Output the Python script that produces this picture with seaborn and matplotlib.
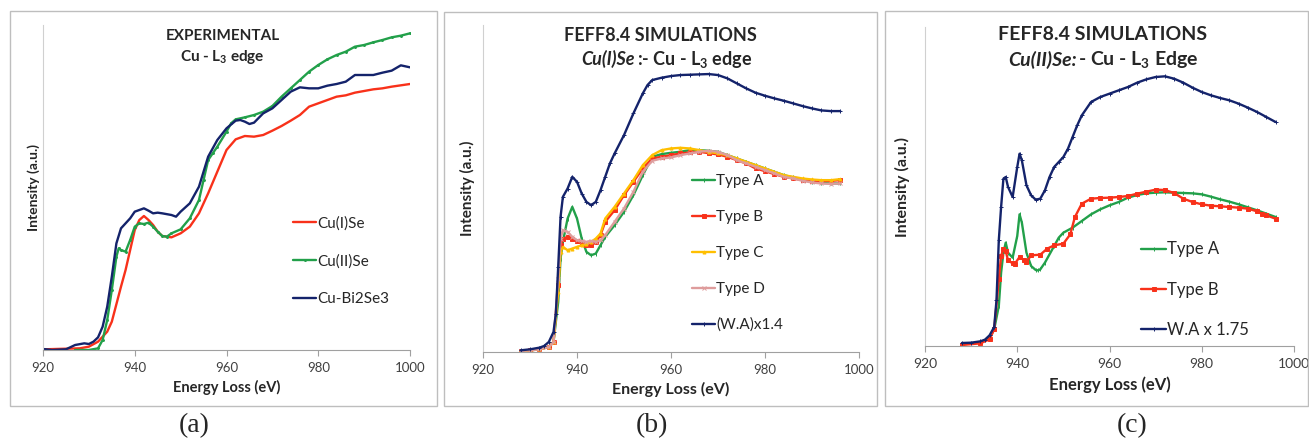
import matplotlib
matplotlib.use('Agg')
import matplotlib.pyplot as plt
import seaborn as sns
from matplotlib.patches import Rectangle

sns.set_style('white')
plt.rcParams['font.family'] = ['Lato', 'DejaVu Sans']
plt.rcParams['mathtext.fontset'] = 'custom'
plt.rcParams['mathtext.rm'] = 'Lato'
plt.rcParams['mathtext.it'] = 'Lato:italic'
plt.rcParams['mathtext.bf'] = 'Lato:bold'
plt.rcParams['mathtext.default'] = 'regular'

RED = '#F8311A'
GREEN = '#22A04A'
NAVY = '#14236B'
YELLOW = '#FFBF00'
PINK = '#DE9C9C'

# ---- panel (a): experimental ----
a_red_x = [920, 928, 930, 932, 934, 935, 937, 938, 939, 940, 941, 942, 943, 944, 945, 946, 948, 950, 952, 954,
           956, 958, 960, 962, 964, 966, 968, 970, 972, 974, 976, 978, 980, 982, 984, 986, 988, 990, 992, 994,
           996, 998, 1000]
a_red_y = [0.2, 0.5, 1.0, 2.5, 5.5, 8.5, 19, 24, 30, 36, 39, 40.2, 39, 37.5, 35.5, 34.2, 33.8, 35, 37, 41,
           47, 53.5, 60, 63.2, 64.2, 64, 64.5, 65.8, 67.2, 68.8, 70.5, 73, 74, 75, 76, 76.4, 77.2, 77.7, 78.2, 78.5,
           79, 79.4, 79.8]

a_green_x = [927, 930, 932, 933, 934, 935, 936, 936.5, 937, 938, 939, 940, 941, 942, 943, 944, 945, 946, 947, 948,
             950, 952, 954, 955, 956, 957, 958, 960, 961, 962, 964, 966, 968, 970, 972, 974, 976, 978, 980, 982,
             984, 986, 988, 990, 992, 994, 996, 998, 1000]
a_green_y = [0, 0, 0.5, 3, 9, 18, 28, 30.5, 30, 29.5, 33, 37, 38, 37.8, 38.2, 37, 35.5, 34.2, 34, 35,
             36.2, 39.5, 45, 51, 57, 59, 61, 65.5, 68, 69.2, 69.8, 70.5, 71.5, 73.2, 76, 78.5, 81, 83.5, 85.5, 87.2,
             88.5, 89.5, 91, 91.5, 92.3, 93, 93.8, 94.3, 95]

a_blue_x = [920, 922, 925, 927, 929, 930, 931, 932, 933, 934, 935, 936, 937, 938, 939, 940, 941, 942, 943, 944,
            945, 946, 948, 949, 950, 952, 954, 956, 958, 960, 962, 963, 964, 965, 966, 968, 970, 972, 974, 976,
            978, 980, 982, 984, 986, 988, 990, 992, 994, 996, 998, 1000]
a_blue_y = [0.3, 0, 0.2, 1.5, 2, 1.8, 2.5, 3.8, 7, 13, 22, 32, 36.5, 38, 39.5, 41.5, 42, 42.5, 41.8, 41,
            41.2, 41, 40.5, 40, 41.5, 44, 49, 58, 63, 66.5, 68.8, 69, 68.5, 67.8, 68.2, 71, 72.5, 75, 77.5, 78.8,
            78.5, 78.5, 79.3, 79.8, 80.5, 82.5, 82.5, 82.5, 83.2, 83.8, 85.4, 84.8]

# ---- panel (b): FEFF Cu(I)Se ----
b_wa_x = [928, 930, 932, 933, 934, 935, 935.5, 936, 936.5, 937, 938, 939, 940, 941, 942, 943, 944, 945, 946, 947,
          948, 950, 952, 954, 955, 956, 958, 960, 962, 964, 966, 968, 970, 972, 974, 976, 978, 980, 982, 984,
          986, 988, 990, 992, 994, 996]
b_wa_y = [0.5, 0.8, 1.3, 1.8, 3, 6, 11.5, 25.5, 40.5, 46.5, 49, 52.5, 51, 47.5, 45, 44, 45, 48.5, 52.5, 56.5,
          59.5, 65, 71.5, 77.5, 80, 81.5, 82.2, 82.7, 83, 83.1, 83.2, 83.3, 83, 82, 80.5, 79, 77.7, 76.8, 76, 75.3,
          74.5, 73.7, 73, 72.4, 72.2, 72.2]

b_sim_x = [928, 930, 932, 934, 935, 936, 936.5, 937, 938, 939, 940, 941, 942, 943, 944, 945, 946, 948, 950, 952,
           954, 956, 958, 960, 962, 964, 966, 968, 970, 972, 974, 976, 978, 980, 982, 984, 986, 988, 990, 992,
           994, 996]
b_typeA = [0.3, 0.5, 0.8, 1.5, 3, 15, 28, 33, 40, 43.5, 40, 34, 30, 29, 29.5, 32, 34.5, 38, 42, 47,
           53, 58.5, 59.3, 59.7, 60, 60.5, 60.5, 60.3, 60, 59, 58, 57, 56, 55, 54, 53, 52.3, 51.5, 51, 50.7,
           50.5, 50.5]
b_typeB = [0.3, 0.5, 0.8, 1.5, 3, 20, 32, 34, 34.5, 33.8, 33.2, 32.5, 32, 32.2, 33, 35, 39, 42.5, 47, 51,
           55, 58, 58.5, 59, 59.5, 59.8, 60, 59.6, 59.2, 58.5, 57.5, 56.5, 55, 54.2, 53.3, 52.5, 52, 51.5, 51.3, 51.2,
           51.3, 51.5]
b_typeC = [0.3, 0.5, 0.8, 1.5, 3, 18, 30, 31.5, 30.5, 31, 31.5, 32, 32.3, 33, 34, 35.5, 40, 43.5, 47.5, 51.5,
           56, 59, 60.5, 61, 61.2, 61, 60.5, 60, 59.5, 59, 58, 57, 56, 55, 54, 53, 52.5, 52, 51.7, 51.5,
           51.5, 51.8]
b_typeD = [0.3, 0.5, 0.8, 1.5, 3, 22, 34, 36.5, 36, 34.5, 33.5, 33.3, 33, 33.3, 33, 33.5, 35, 39, 43, 48,
           54, 57.3, 58, 58.3, 59, 59.5, 60, 60.3, 60, 59, 57.5, 56.5, 55.5, 54.5, 53.5, 52.5, 52, 51.3, 50.8, 50.5,
           50.4, 50.5]

# ---- panel (c): FEFF Cu(II)Se ----
c_wa_x = [928, 930, 932, 933, 934, 935, 935.5, 936, 936.5, 937, 937.5, 938, 939, 940, 940.5, 941, 942, 943, 944, 945,
          946, 947, 948, 949, 950, 951, 952, 953, 954, 956, 958, 960, 962, 964, 966, 968, 970, 972, 974, 976,
          978, 980, 982, 984, 986, 988, 990, 992, 994, 996]
c_wa_y = [0.9, 1.0, 1.4, 1.9, 3.2, 5.7, 13.7, 31.7, 41.7, 50.2, 50.7, 47.7, 44.7, 53.7, 57.7, 55.7, 48.2, 45.2, 43.9, 44.2,
          46.7, 50.7, 53.7, 55.2, 56.7, 59.2, 62.7, 66.2, 69.2, 73.2, 74.7, 75.7, 76.7, 77.7, 79, 80, 80.7, 80.9, 80.2, 79,
          77.5, 76.2, 75.2, 74.4, 73.7, 72.7, 71.5, 70.2, 68.7, 67.2]

c_a_x = [928, 932, 934, 935, 936, 936.5, 937, 937.5, 938, 939, 940, 940.5, 941, 942, 943, 944, 944.5, 945, 946, 948,
         949, 950, 952, 954, 956, 958, 960, 962, 964, 966, 968, 970, 972, 974, 976, 978, 980, 982, 984, 986,
         988, 990, 992, 994, 996]
c_a_y = [0.5, 1, 2.5, 5, 12, 22, 28, 31, 28, 26.5, 33, 39.5, 37, 28, 24, 22.8, 22.7, 23, 25, 30,
         32.5, 34, 35.5, 37.5, 39.5, 41, 42.2, 43.2, 44.5, 45.3, 45.8, 46, 46.1, 46, 45.9, 45.8, 45.5, 44.8, 44, 43.3,
         42.5, 41.6, 40.7, 39.7, 38.7]

c_b_x = [928, 932, 934, 935, 936, 936.5, 937, 937.5, 938, 939, 939.5, 940.5, 941.5, 942, 943, 945, 946.5, 948, 950, 951.5,
         952.5, 954, 956, 958, 960, 962, 964, 966, 968, 970, 972, 974, 976, 978, 980, 982, 984, 986, 988, 990,
         992, 993, 994, 996]
c_b_y = [0.3, 0.8, 2, 5, 20, 27, 29.2, 28.5, 25.7, 24.8, 24.7, 26.7, 25.7, 25.2, 27.2, 27.4, 29.2, 30.2, 30.7, 33.5,
         38.7, 42.7, 44.2, 44.4, 44.5, 44.7, 45, 45.7, 46.3, 46.9, 46.8, 45.9, 44.2, 43.2, 42.5, 42.1, 41.9, 41.7, 41.5, 41.2,
         40.4, 39.7, 39.2, 38.2]

xticks = [920, 940, 960, 980, 1000]

fig = plt.figure(figsize=(13.09, 4.43), dpi=100)

# panel frames (figure pixels: left, top, right, bottom)
frames = [(10, 11, 437, 406), (444, 12, 877, 406), (885, 11, 1308, 406)]
for l, t, r, b in frames:
    fig.patches.append(Rectangle((l / 1309, 1 - b / 443), (r - l) / 1309, (b - t) / 443,
                                 transform=fig.transFigure, fill=False, ec='#BEBEBE', lw=1.0))

axa = fig.add_axes([43 / 1309, 1 - 350 / 443, 367 / 1309, 325 / 443])
axb = fig.add_axes([483 / 1309, 1 - 352 / 443, 376 / 1309, 327 / 443])
axc = fig.add_axes([925 / 1309, 1 - 346 / 443, 369 / 1309, 319 / 443])

lw = 1.7


def mk(c, m, size=2.6):
    return dict(color=c, marker=m, markersize=size, markeredgewidth=0.7, markeredgecolor=c,
                markerfacecolor=c, lw=lw)


sns.lineplot(x=a_red_x, y=a_red_y, ax=axa, color=RED, lw=lw, label='Cu(I)Se')
sns.lineplot(x=a_green_x, y=a_green_y, ax=axa, label='Cu(II)Se', **mk(GREEN, 'o', 1.4))
sns.lineplot(x=a_blue_x, y=a_blue_y, ax=axa, color=NAVY, lw=lw, label='Cu-Bi2Se3')

sns.lineplot(x=b_sim_x, y=b_typeA, ax=axb, label='Type A', **mk(GREEN, '|', 2.5))
sns.lineplot(x=b_sim_x, y=b_typeB, ax=axb, label='Type B', **mk(RED, 's', 2.2))
sns.lineplot(x=b_sim_x, y=b_typeC, ax=axb, label='Type C', **mk(YELLOW, '^', 2.2))
sns.lineplot(x=b_sim_x, y=b_typeD, ax=axb, label='Type D', **mk(PINK, 'x', 2.2))
sns.lineplot(x=b_wa_x, y=b_wa_y, ax=axb, label='(W.A)x1.4', **mk(NAVY, '+', 3))

sns.lineplot(x=c_a_x, y=c_a_y, ax=axc, label='Type A', **mk(GREEN, '|', 2.5))
sns.lineplot(x=c_b_x, y=c_b_y, ax=axc, label='Type B', **mk(RED, 's', 2.2))
sns.lineplot(x=c_wa_x, y=c_wa_y, ax=axc, label='W.A x 1.75', **mk(NAVY, '+', 3))

for ax, top, fs, pad in [(axa, 97.5, 10.5, 2), (axb, 98, 11.5, 6), (axc, 95.7, 12, 11)]:
    ax.set_xlim(920, 1000)
    ax.set_ylim(0, top)
    ax.set_xticks(xticks)
    ax.set_yticks([])
    ax.tick_params(axis='x', direction='out', length=4, width=0.8, color='#A0A0A0',
                   labelsize=9.5 if ax is not axc else 10, labelcolor='#404040', pad=5, bottom=True)
    for s in ['top', 'right']:
        ax.spines[s].set_visible(False)
    ax.spines['left'].set_color('#D0D0D0')
    ax.spines['bottom'].set_color('#A0A0A0')
    ax.set_xlabel('Energy Loss (eV)', fontsize=fs, fontweight='bold', labelpad=4)
    ax.set_ylabel('Intensity (a.u.)', fontsize=fs - 0.5, fontweight='bold', labelpad=pad)
    ax.set_facecolor('none')

axa.legend(loc='upper left', bbox_to_anchor=(0.645, 0.455), frameon=False, fontsize=11,
           handlelength=1.5, handletextpad=0.05, labelspacing=1.55)
axb.legend(loc='upper left', bbox_to_anchor=(0.52, 0.585), frameon=False, fontsize=11,
           handlelength=1.5, handletextpad=0.05, labelspacing=1.43)
axc.legend(loc='upper left', bbox_to_anchor=(0.545, 0.375), frameon=False, fontsize=12,
           handlelength=1.5, handletextpad=0.05, labelspacing=1.45)

# titles
axa.text(0.49, 0.965, 'EXPERIMENTAL', transform=axa.transAxes, ha='center', va='center',
         fontsize=11, fontweight='bold')
axa.text(0.49, 0.90, 'Cu - L$_3$ edge', transform=axa.transAxes, ha='center', va='center',
         fontsize=11, fontweight='bold')

axb.text(0.473, 0.969, 'FEFF8.4 SIMULATIONS', transform=axb.transAxes, ha='center', va='center',
         fontsize=13, fontweight='bold')
axb.text(0.404, 0.896, 'Cu(I)Se', transform=axb.transAxes, ha='right', va='center',
         fontsize=13, fontweight='bold', fontstyle='italic')
axb.text(0.41, 0.896, ':- Cu - L$_3$ edge', transform=axb.transAxes, ha='left', va='center',
         fontsize=13, fontweight='bold')

axc.text(0.48, 0.978, 'FEFF8.4 SIMULATIONS', transform=axc.transAxes, ha='center', va='center',
         fontsize=14, fontweight='bold')
axc.text(0.412, 0.897, 'Cu(II)Se:', transform=axc.transAxes, ha='right', va='center',
         fontsize=14, fontweight='bold', fontstyle='italic')
axc.text(0.414, 0.897, '- Cu - L$_3$ Edge', transform=axc.transAxes, ha='left', va='center',
         fontsize=14, fontweight='bold')

for lab, cx in [('(a)', 194), ('(b)', 652), ('(c)', 1132)]:
    fig.text(cx / 1309, 1 - 426 / 443, lab, ha='center', va='center', fontsize=20,
             family=['Liberation Serif', 'DejaVu Serif'])

plt.savefig('out.png', dpi=100)
plt.close()
